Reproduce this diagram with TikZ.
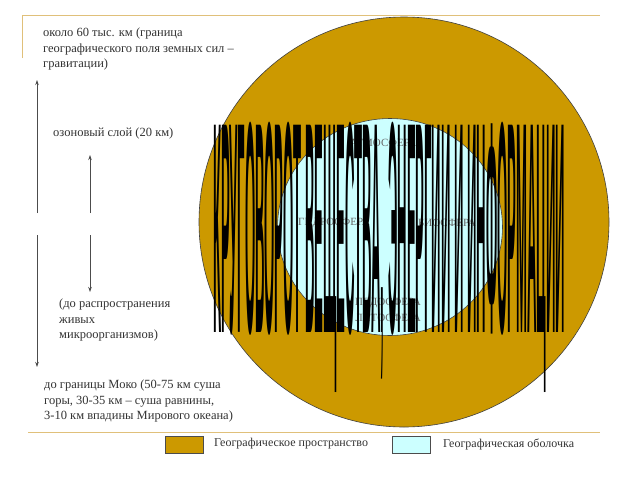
\documentclass[tikz,border=0pt]{standalone}
\usepackage{fontspec}
\setmainfont{Liberation Serif}
\newfontfamily\wafont{Liberation Sans}
\usetikzlibrary{arrows.meta,shapes.geometric}
\definecolor{gold}{HTML}{CC9900}
\definecolor{lcyan}{HTML}{CCFFFF}
\definecolor{rulec}{HTML}{E0C07A}
\begin{document}
\begin{tikzpicture}[x=1pt,y=-1pt,
  lbl/.style={font=\fontsize{12.5}{15.5}\selectfont, text=black!80, align=left, inner sep=0, anchor=north west},
  sph/.style={font=\fontsize{11}{12}\selectfont, text=black!60, inner sep=0},
  arr/.style={draw=black!70, line width=0.7pt, -{Stealth[length=5pt,width=3.5pt]}},
  rulel/.style={draw=rulec, line width=1pt},
  legbox/.style={draw=black!70, line width=0.6pt, minimum width=38pt, minimum height=17pt, inner sep=0},
  legtxt/.style={font=\fontsize{12}{14}\selectfont, text=black!80, inner sep=0, anchor=west}]
\useasboundingbox (0,0) rectangle (640,480);
\fill[white] (0,0) rectangle (640,480);
% frame rules
\coordinate (r1) at (22,15); \coordinate (r2) at (600,15); \coordinate (r3) at (22,58);
\coordinate (b1) at (28,432); \coordinate (b2) at (600,432);
\draw[rulel] (r3) -- (r1) -- (r2);
\draw[rulel] (b1) -- (b2);
% spheres
\node[circle, draw=black!75, line width=0.6pt, fill=gold, minimum size=410pt, inner sep=0] (big) at (404,222) {};
\node[ellipse, draw=black!75, line width=0.6pt, fill=lcyan, minimum width=225pt, minimum height=217pt, inner sep=0] (small) at (390,227) {};
\node[sph] (atm) at (383,143) {АТМОСФЕРА};
\node[sph] (gid) at (334,223) {ГИДРОСФЕРА};
\node[sph] (bio) at (447,223) {БИОСФЕРА};
\node[sph] (ped) at (388,303) {ПЕДОСФЕРА};
\node[sph] (lit) at (388,318) {ЛИТОСФЕРА};
% word art
\node[inner sep=0, anchor=base west] (wa) at (213,332) {\resizebox{352pt}{210pt}{\wafont\bfseries КРУГОВОРОТ ВЕЩЕСТВА, ЭНЕРГИИ И ИНФОРМАЦИИ}};
% left texts
\node[lbl] (t1) at (43,28) {около 60 тыс. км (граница\\географического поля земных сил –\\гравитации)};
\node[lbl] (t2) at (53,128) {озоновый слой (20 км)};
\node[lbl] (t3) at (59,299) {(до распространения\\живых\\микроорганизмов)};
\node[lbl] (t4) at (44,380) {до границы Моко (50-75 км суша\\горы,  30-35 км – суша равнины,\\3-10 км впадины Мирового океана)};
% arrows
\coordinate (la1) at (37,213); \coordinate (la2) at (37,80);
\coordinate (la3) at (37,235); \coordinate (la4) at (37,367);
\coordinate (sa1) at (90,213); \coordinate (sa2) at (90,155);
\coordinate (sa3) at (90,235); \coordinate (sa4) at (90,292);
\draw[arr] (la1) -- (la2);
\draw[arr] (la3) -- (la4);
\draw[arr] (sa1) -- (sa2);
\draw[arr] (sa3) -- (sa4);
% legend
\node[legbox, fill=gold] (lg1) at (184,445) {};
\node[legtxt] (lt1) at (214,444) {Географическое пространство};
\node[legbox, fill=lcyan] (lg2) at (411,445) {};
\node[legtxt] (lt2) at (443,444) {Географическая оболочка};
\end{tikzpicture}
\end{document}
